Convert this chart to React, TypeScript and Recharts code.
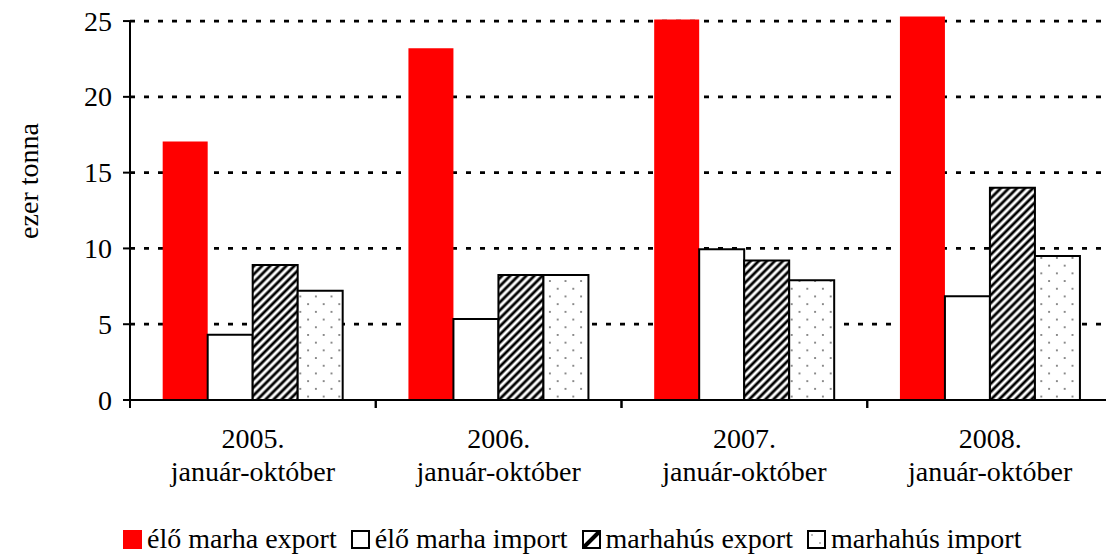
import { BarChart, Bar, XAxis, YAxis, CartesianGrid, Legend } from 'recharts'

// Hungarian cattle trade, January-October, thousand tonnes
const categories = ['2005.', '2006.', '2007.', '2008.']
const periodLabel = 'január-október'
const eloMarhaExport = [17.05, 23.2, 25.1, 25.3]
const eloMarhaImport = [4.3, 5.35, 9.95, 6.85]
const marhahusExport = [8.9, 8.25, 9.2, 14.0]
const marhahusImport = [7.2, 8.25, 7.9, 9.5]
const yTicks = [0, 5, 10, 15, 20, 25]
const gridValues = [5, 10, 15, 20, 25]

const seriesNames = ['élő marha export', 'élő marha import', 'marhahús export', 'marhahús import']

const data = categories.map((year, i) => ({
  year,
  eloExport: eloMarhaExport[i],
  eloImport: eloMarhaImport[i],
  husExport: marhahusExport[i],
  husImport: marhahusImport[i],
}))

// ── Layout ───────────────────────────────────────────────────────────────────
const CHART_W = 1113
const CHART_H = 555
const PLOT_LEFT = 130
const PLOT_TOP = 15
const PLOT_BOTTOM = 400
const Y_MAX = 25.4
const PPU = (PLOT_BOTTOM - PLOT_TOP) / Y_MAX
const BAND = (CHART_W - PLOT_LEFT) / categories.length

const FONT = '"Liberation Serif", "Times New Roman", serif'
const RED = '#FF0000'

// ── Axis ticks ───────────────────────────────────────────────────────────────
const YTick = ({ y, payload }: any) => {
  const v = payload.value
  return (
    <g>
      <line x1={PLOT_LEFT - 7} x2={PLOT_LEFT} y1={y} y2={y} stroke="#000" strokeWidth={2} />
      {v === 0 && (
        <line x1={PLOT_LEFT} x2={PLOT_LEFT} y1={y} y2={y - 25 * PPU} stroke="#000" strokeWidth={2} />
      )}
      <text x={112} y={y + 9.5} textAnchor="end" fontFamily={FONT} fontSize={28} fill="#000">
        {v}
      </text>
    </g>
  )
}

const XTick = ({ x, payload }: any) => (
  <g>
    <line x1={x - BAND / 2} x2={x - BAND / 2} y1={PLOT_BOTTOM} y2={PLOT_BOTTOM + 8} stroke="#000" strokeWidth={2} />
    <line x1={x + BAND / 2} x2={x + BAND / 2} y1={PLOT_BOTTOM} y2={PLOT_BOTTOM + 8} stroke="#000" strokeWidth={2} />
    <text x={x} y={448} textAnchor="middle" fontFamily={FONT} fontSize={28} fill="#000">{payload.value}</text>
    <text x={x} y={481} textAnchor="middle" fontFamily={FONT} fontSize={28} fill="#000">{periodLabel}</text>
  </g>
)

// ── Legend ───────────────────────────────────────────────────────────────────
const LegendIcon = ({ i }: { i: number }) => (
  <svg width={19} height={19} style={{ flexShrink: 0 }}>
    {i === 0 && <rect x={0} y={0} width={19} height={19} fill={RED} />}
    {i === 1 && <rect x={1} y={1} width={17} height={17} fill="#fff" stroke="#000" strokeWidth={2} />}
    {i === 2 && (
      <>
        <rect x={1} y={1} width={17} height={17} fill="#fff" stroke="#000" strokeWidth={2} />
        <line x1={2} y1={17} x2={17} y2={2} stroke="#000" strokeWidth={4} />
      </>
    )}
    {i === 3 && (
      <>
        <rect x={1} y={1} width={17} height={17} fill="#fff" stroke="#000" strokeWidth={2} />
        <circle cx={5} cy={5} r={0.8} fill="#666" />
        <circle cx={13} cy={13} r={0.8} fill="#666" />
      </>
    )}
  </svg>
)

const LegendContent = () => (
  <div style={{
    display: 'flex', alignItems: 'center', gap: '14px', paddingLeft: '123px',
    fontFamily: FONT, fontSize: '28px', lineHeight: '32px', color: '#000', whiteSpace: 'nowrap',
  }}>
    {seriesNames.map((name, i) => (
      <div key={name} style={{ display: 'flex', alignItems: 'center', gap: '5px' }}>
        <LegendIcon i={i} />
        <span>{name}</span>
      </div>
    ))}
  </div>
)

// ── Main component ────────────────────────────────────────────────────────────
export default function App() {
  return (
    <div style={{ position: 'absolute', left: 0, top: 0, width: 1106, height: 555, overflow: 'hidden', background: '#fff' }}>
      <BarChart
        width={CHART_W}
        height={CHART_H}
        data={data}
        margin={{ top: PLOT_TOP, right: 0, left: 0, bottom: CHART_H - PLOT_BOTTOM - 100 }}
        barCategoryGap="13.3%"
        barGap={0}
      >
        <defs>
          <pattern id="hatch" width="5.7" height="5.7" patternUnits="userSpaceOnUse" patternTransform="rotate(45)">
            <rect width="5.7" height="5.7" fill="#fff" />
            <line x1="2.85" y1="0" x2="2.85" y2="5.7" stroke="#000" strokeWidth="2.8" />
          </pattern>
          <pattern id="dots" width="15.6" height="15.4" patternUnits="userSpaceOnUse">
            <rect width="15.6" height="15.4" fill="#fff" />
            <circle cx="3.9" cy="3.85" r="0.9" fill="#555" />
            <circle cx="11.7" cy="11.55" r="0.9" fill="#555" />
          </pattern>
        </defs>
        <CartesianGrid vertical={false} horizontalValues={gridValues} stroke="#000" strokeWidth={2.7} strokeDasharray="5 9" />
        <XAxis dataKey="year" height={100} interval={0} tickLine={false}
          axisLine={{ stroke: '#000', strokeWidth: 2 }} tick={<XTick />} />
        <YAxis width={PLOT_LEFT} domain={[0, Y_MAX]} ticks={yTicks} tickLine={false} axisLine={false}
          tick={<YTick />}
          label={{
            content: () => (
              <text transform="translate(38,181) rotate(-90)" textAnchor="middle" fontFamily={FONT} fontSize={28} fill="#000">
                ezer tonna
              </text>
            ),
          }}
        />
        <Legend verticalAlign="middle" align="center" layout="horizontal"
          wrapperStyle={{ top: 523, left: 0, width: 1106, height: 32 }}
          content={() => <LegendContent />} />
        <Bar dataKey="eloExport" name={seriesNames[0]} fill={RED} isAnimationActive={false} />
        <Bar dataKey="eloImport" name={seriesNames[1]} fill="#fff" stroke="#000" strokeWidth={2} isAnimationActive={false} />
        <Bar dataKey="husExport" name={seriesNames[2]} fill="url(#hatch)" stroke="#000" strokeWidth={2} isAnimationActive={false} />
        <Bar dataKey="husImport" name={seriesNames[3]} fill="url(#dots)" stroke="#000" strokeWidth={2} isAnimationActive={false} />
      </BarChart>
    </div>
  )
}
